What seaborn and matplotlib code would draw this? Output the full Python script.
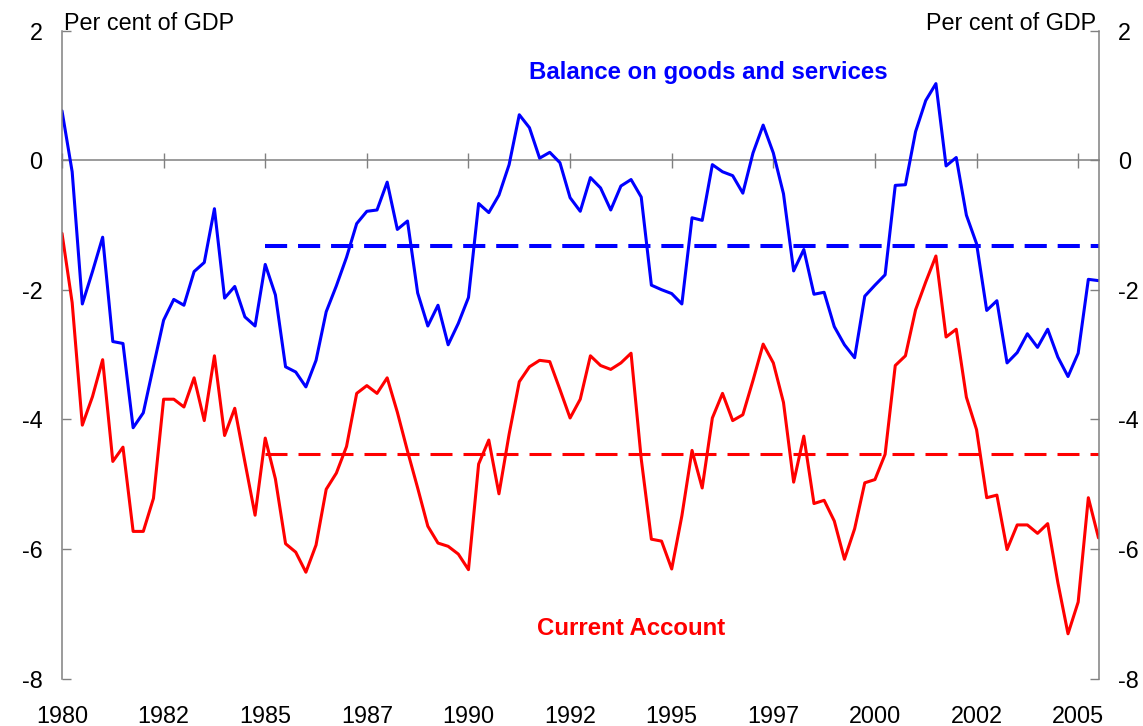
import numpy as np
import pandas as pd
import matplotlib
matplotlib.use("Agg")
import matplotlib.pyplot as plt
import seaborn as sns

# quarterly data, per cent of GDP, 1980Q1 .. 2005Q3
start_qtr = "1980Q1"
goods_services = [
    0.76, -0.18, -2.22, -1.72, -1.19, -2.80, -2.83, -4.13, -3.90, -3.18,
    -2.47, -2.15, -2.24, -1.72, -1.58, -0.75, -2.13, -1.95, -2.42, -2.56,
    -1.61, -2.08, -3.19, -3.27, -3.50, -3.09, -2.34, -1.94, -1.50, -0.98,
    -0.79, -0.77, -0.34, -1.07, -0.94, -2.05, -2.56, -2.24, -2.85, -2.52,
    -2.12, -0.67, -0.81, -0.54, -0.07, 0.70, 0.50, 0.03, 0.12, -0.04,
    -0.58, -0.79, -0.27, -0.43, -0.77, -0.40, -0.30, -0.57, -1.93, -2.00,
    -2.06, -2.22, -0.89, -0.93, -0.07, -0.18, -0.24, -0.51, 0.11, 0.54,
    0.11, -0.52, -1.71, -1.38, -2.07, -2.04, -2.57, -2.85, -3.05, -2.10,
    -1.93, -1.77, -0.39, -0.38, 0.44, 0.92, 1.18, -0.09, 0.04, -0.85,
    -1.29, -2.32, -2.17, -3.13, -2.97, -2.68, -2.89, -2.61, -3.04, -3.34,
    -2.98, -1.84, -1.86,
]
current_account = [
    -1.13, -2.20, -4.09, -3.65, -3.08, -4.65, -4.43, -5.73, -5.73, -5.22,
    -3.69, -3.69, -3.81, -3.36, -4.02, -3.02, -4.25, -3.83, -4.66, -5.48,
    -4.29, -4.92, -5.92, -6.05, -6.36, -5.94, -5.08, -4.83, -4.42, -3.60,
    -3.48, -3.60, -3.36, -3.89, -4.49, -5.06, -5.65, -5.91, -5.96, -6.08,
    -6.32, -4.69, -4.32, -5.15, -4.23, -3.42, -3.19, -3.09, -3.11, -3.54,
    -3.98, -3.69, -3.02, -3.17, -3.23, -3.13, -2.98, -4.61, -5.85, -5.88,
    -6.31, -5.49, -4.48, -5.06, -3.98, -3.60, -4.02, -3.93, -3.40, -2.84,
    -3.13, -3.74, -4.97, -4.26, -5.30, -5.25, -5.57, -6.16, -5.69, -4.98,
    -4.93, -4.54, -3.17, -3.02, -2.31, -1.88, -1.48, -2.73, -2.61, -3.66,
    -4.16, -5.21, -5.17, -6.01, -5.63, -5.63, -5.76, -5.61, -6.52, -7.31,
    -6.82, -5.21, -5.83,
]
# averages since 1985 (dashed)
avg_start = 1985.0
goods_avg = -1.32
ca_avg = -4.53

tick_pos = [1980, 1982.5, 1985, 1987.5, 1990, 1992.5, 1995, 1997.5, 2000, 2002.5, 2005]
tick_labels = ["1980", "1982", "1985", "1987", "1990", "1992", "1995", "1997",
               "2000", "2002", "2005"]
y_ticks = [-8, -6, -4, -2, 0, 2]

BLUE = "#0000FF"
RED = "#FF0000"
GREY = "#808080"

# build long table
qtrs = pd.period_range(start_qtr, periods=len(goods_services), freq="Q")
yr = qtrs.year + (qtrs.quarter - 1) / 4
df = pd.concat([
    pd.DataFrame({"yr": yr, "val": goods_services, "series": "gs"}),
    pd.DataFrame({"yr": yr, "val": current_account, "series": "ca"}),
])
x_end = yr[-1]

sns.set_theme(style="white")
plt.rcParams["font.family"] = ["Liberation Sans", "DejaVu Sans"]
plt.rcParams["axes.unicode_minus"] = False
plt.rcParams["text.color"] = "black"

fig, ax = plt.subplots(figsize=(11.43, 7.26), dpi=100)
fig.subplots_adjust(left=62 / 1143, right=1098.5 / 1143,
                    bottom=1 - 678.5 / 726, top=1 - 30.5 / 726)

sns.lineplot(data=df, x="yr", y="val", hue="series",
             palette={"gs": BLUE, "ca": RED}, linewidth=2.2,
             legend=False, ax=ax)

ax.hlines(goods_avg, avg_start, x_end, colors=BLUE, linewidth=2.9,
          linestyles=(0, (5.5, 2.7)))
ax.hlines(ca_avg, avg_start, x_end, colors=RED, linewidth=2.2,
          linestyles=(0, (7.2, 3.6)))

ax.set_xlim(yr[0], x_end)
ax.set_ylim(-8, 2)
ax.set_xlabel("")
ax.set_ylabel("")

ax.set_yticks(y_ticks)
ax.tick_params(axis="y", direction="in", length=6.2, width=1, color=GREY,
               left=True, right=True, labelleft=True, labelright=True,
               labelsize=16.8, pad=14, labelcolor="black")
ax.set_xticks(tick_pos, tick_labels)
ax.tick_params(axis="x", length=0, pad=19, labelsize=16.8, labelcolor="black")

for s in ["top", "bottom"]:
    ax.spines[s].set_visible(False)
for s in ["left", "right"]:
    ax.spines[s].set_color(GREY)
    ax.spines[s].set_linewidth(1.1)

# zero line with crossing tick marks
zero_loc = (0 - (-8)) / (2 - (-8))
sec = ax.secondary_xaxis(zero_loc)
sec.set_xticks(tick_pos)
sec.tick_params(direction="inout", length=10.8, width=1, color=GREY,
                labeltop=False, labelbottom=False)
for s in sec.spines.values():
    s.set_color(GREY)
    s.set_linewidth(1.1)

# text labels
ax.text(2 / 1036.5, 1.0, "Per cent of GDP", transform=ax.transAxes,
        ha="left", va="baseline", fontsize=16.8, color="black")
ax.text(1 - 2 / 1036.5, 1.0, "Per cent of GDP", transform=ax.transAxes,
        ha="right", va="baseline", fontsize=16.8, color="black")
ax.text(1995.9, 1.25, "Balance on goods and services", color=BLUE,
        fontweight="bold", fontsize=17.3, ha="center", va="baseline")
ax.text(1994.0, -7.33, "Current Account", color=RED,
        fontweight="bold", fontsize=17.3, ha="center", va="baseline")

fig.savefig("out.png", dpi=100)
